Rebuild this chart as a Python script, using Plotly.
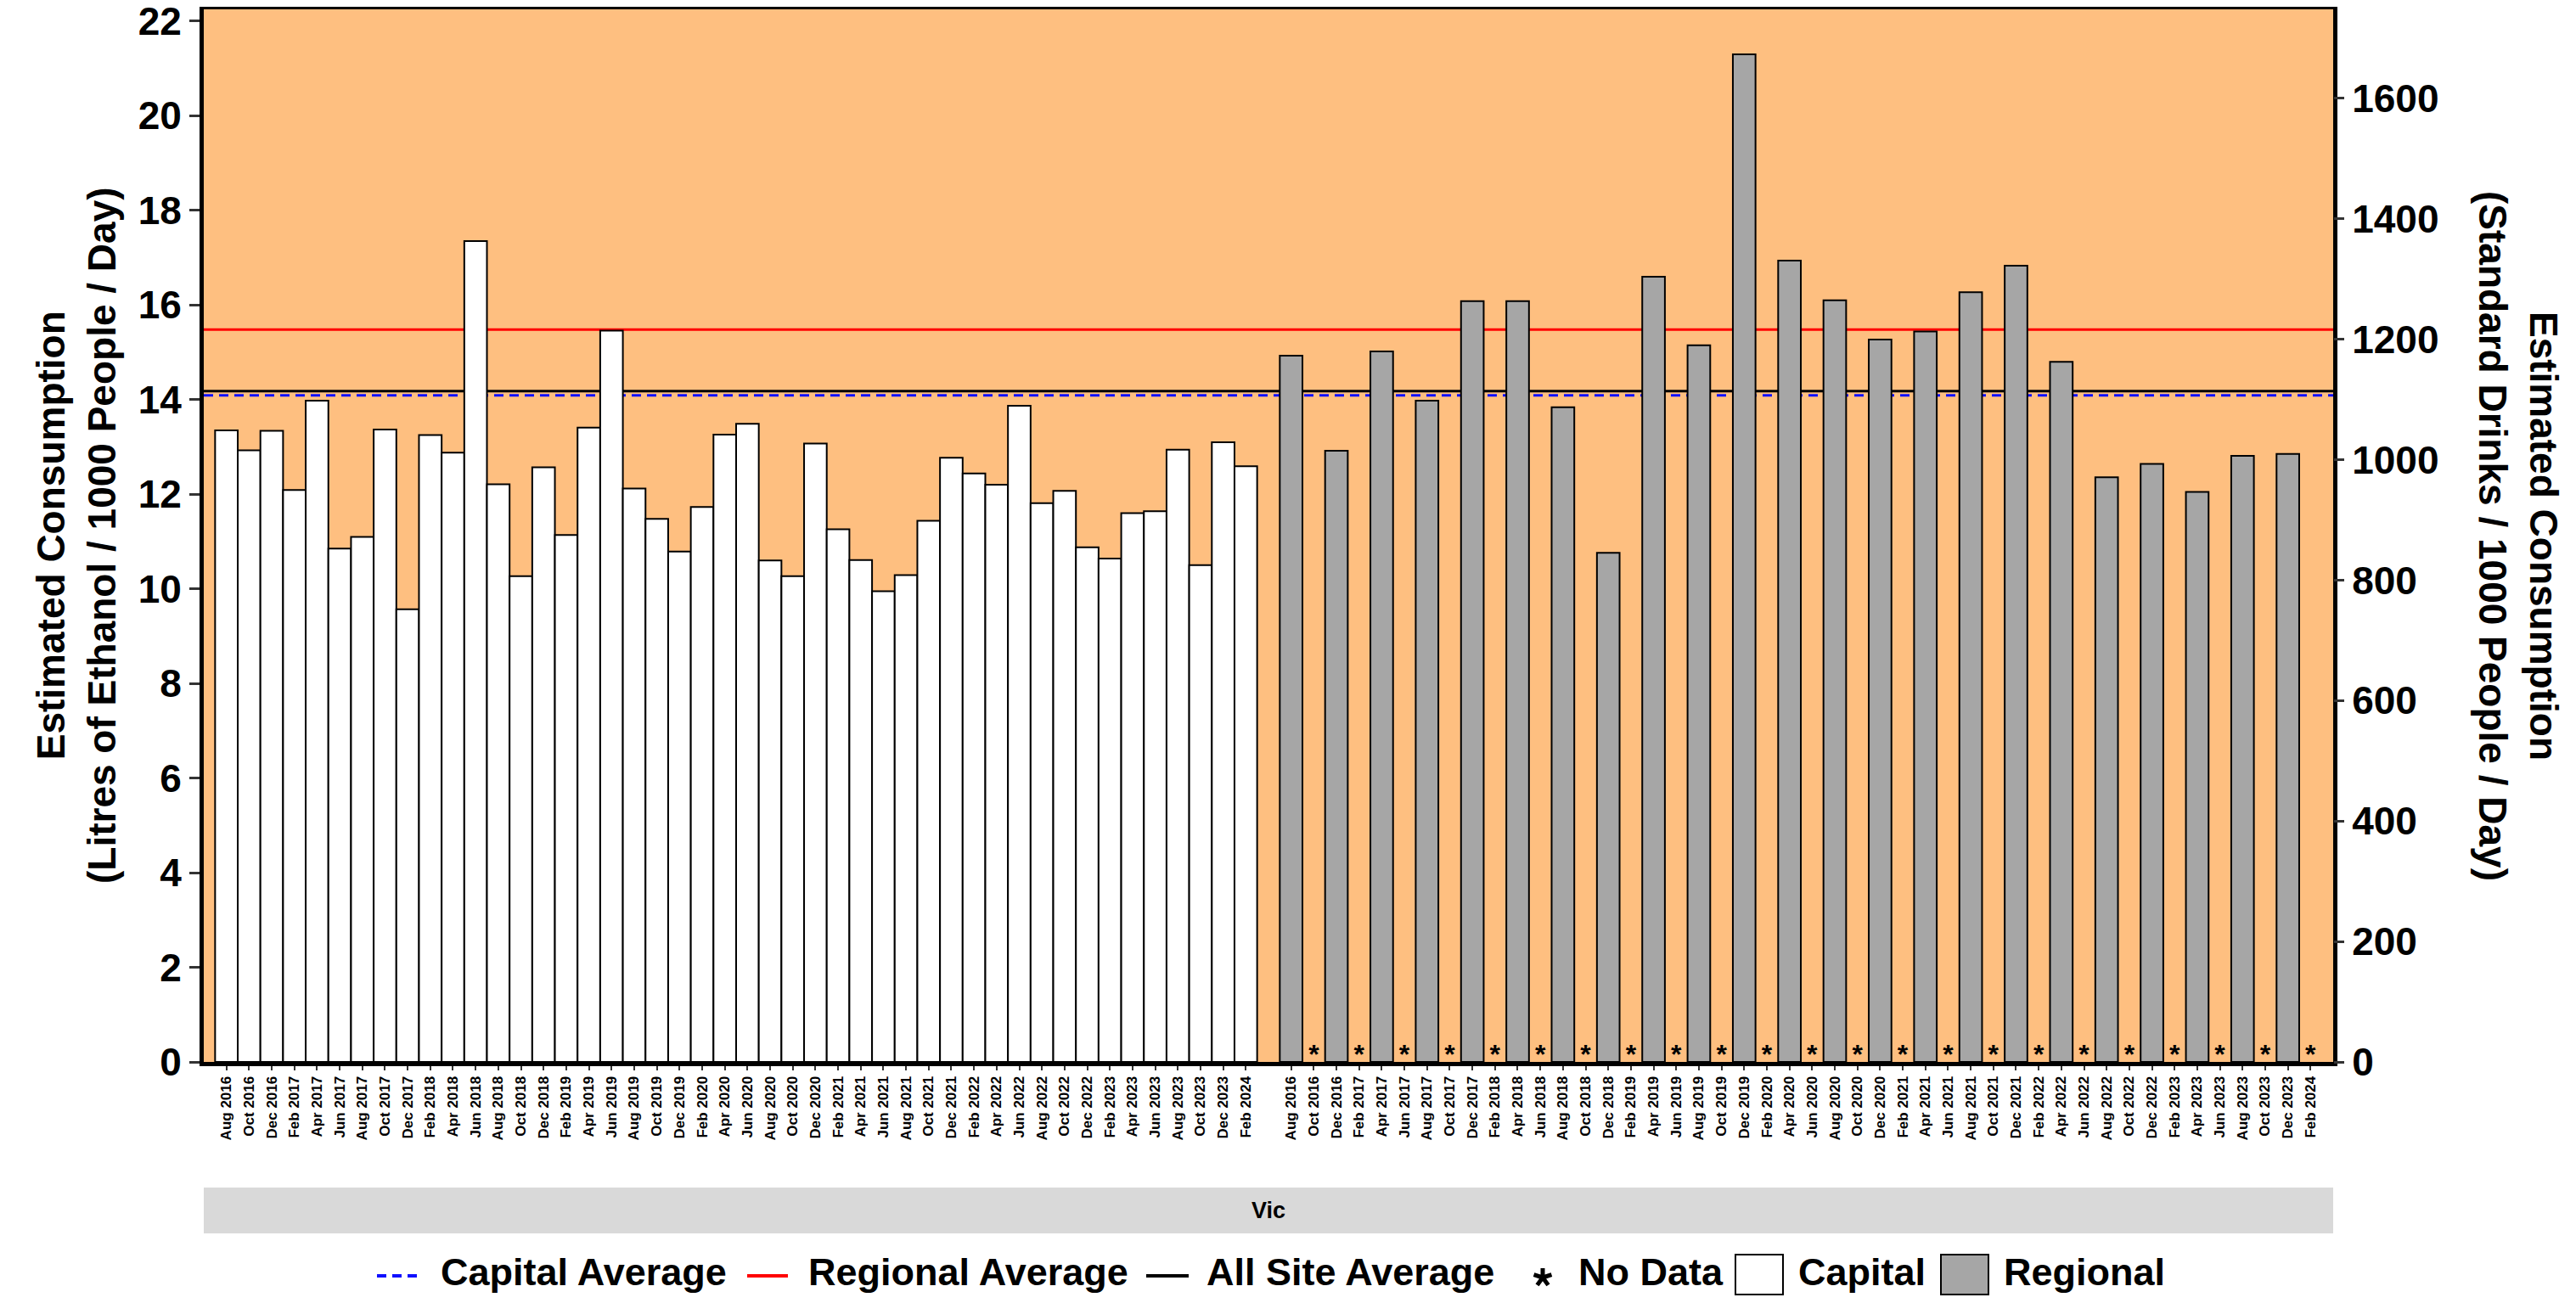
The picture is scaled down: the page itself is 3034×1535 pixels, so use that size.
import math
import plotly.graph_objects as go

# ---------------- data ----------------
months = ["Aug 2016", "Oct 2016", "Dec 2016",
          "Feb 2017", "Apr 2017", "Jun 2017", "Aug 2017", "Oct 2017", "Dec 2017",
          "Feb 2018", "Apr 2018", "Jun 2018", "Aug 2018", "Oct 2018", "Dec 2018",
          "Feb 2019", "Apr 2019", "Jun 2019", "Aug 2019", "Oct 2019", "Dec 2019",
          "Feb 2020", "Apr 2020", "Jun 2020", "Aug 2020", "Oct 2020", "Dec 2020",
          "Feb 2021", "Apr 2021", "Jun 2021", "Aug 2021", "Oct 2021", "Dec 2021",
          "Feb 2022", "Apr 2022", "Jun 2022", "Aug 2022", "Oct 2022", "Dec 2022",
          "Feb 2023", "Apr 2023", "Jun 2023", "Aug 2023", "Oct 2023", "Dec 2023",
          "Feb 2024"]

capital = [13.35, 12.93, 13.34, 12.09, 13.98, 10.85, 11.1, 13.37, 9.57,
           13.25, 12.88, 17.35, 12.21, 10.27, 12.57,
           11.14, 13.41, 15.46, 12.12, 11.48, 10.79,
           11.73, 13.26, 13.49, 10.6, 10.27, 13.07,
           11.26, 10.61, 9.95, 10.29, 11.44, 12.77,
           12.44, 12.2, 13.87, 11.81, 12.07, 10.88,
           10.64, 11.6, 11.64, 12.94, 10.5, 13.1,
           12.59]

regional = [14.93, None, 12.92, None, 15.02, None, 13.98, None, 16.08,
            None, 16.08, None, 13.84, None, 10.76,
            None, 16.6, None, 15.15, None, 21.3,
            None, 16.94, None, 16.1, None, 15.27,
            None, 15.44, None, 16.27, None, 16.83,
            None, 14.8, None, 12.36, None, 12.64,
            None, 12.05, None, 12.81, None, 12.85,
            None]

capital_average = 14.09
regional_average = 15.48
all_site_average = 14.18

region_label = "Vic"
sd_per_litre = 78.55          # standard drinks per litre of ethanol (secondary axis)
y_ticks_left = [0, 2, 4, 6, 8, 10, 12, 14, 16, 18, 20, 22]
y_ticks_right = [0, 200, 400, 600, 800, 1000, 1200, 1400, 1600]

# ---------------- layout constants ----------------
# page body has an 8px margin; figure is sized so the plot lands where the reference has it
BODY = 8
W, H = 3034 - 2 * BODY, 1535 - 2 * BODY
PLOT_L, PLOT_T, PLOT_R, PLOT_B = 240, 11, 2748, 1251     # screen pixels of the plot area
L, T = PLOT_L - BODY, PLOT_T - BODY
R, B = (W + BODY) - PLOT_R, (H + BODY) - PLOT_B
PW, PH = PLOT_R - PLOT_L, PLOT_B - PLOT_T
Y_MAX = 22.25
FONT = "Liberation Sans, Arial, sans-serif"
BG = "#FEBF80"
GRAY = "#A6A6A6"


def px_x(X):
    return (X - PLOT_L) / PW


def px_y(Y):
    return (PLOT_B - Y) / PH


n = len(months)
cap_x = [i + 1 for i in range(n)]
reg_x = [i + n + 2 for i in range(n)]
x_max = 2 * n + 2
nodata_x = [reg_x[i] for i, v in enumerate(regional) if v is None]
STAR_Y = 0.1

fig = go.Figure()

fig.add_trace(go.Bar(x=cap_x, y=capital, width=1.0, name="Capital",
                     marker=dict(color="white", line=dict(color="black", width=2)),
                     showlegend=False))
fig.add_trace(go.Bar(x=reg_x, y=regional, width=1.0, name="Regional",
                     marker=dict(color=GRAY, line=dict(color="black", width=2)),
                     showlegend=False))
fig.add_trace(go.Scatter(x=nodata_x, y=[STAR_Y] * len(nodata_x), mode="text", text=["*"] * len(nodata_x),
                         textposition="middle center", cliponaxis=False,
                         textfont=dict(family=FONT, size=32, color="black", weight="bold"),
                         showlegend=False, hoverinfo="skip"))
# invisible trace for secondary axis
fig.add_trace(go.Scatter(x=[cap_x[0]], y=[0], yaxis="y2", mode="markers",
                         marker=dict(opacity=0), showlegend=False, hoverinfo="skip"))

shapes = []
# average lines (beneath bars)
shapes.append(dict(type="line", xref="paper", x0=0, x1=1, yref="y", y0=all_site_average, y1=all_site_average,
                   layer="below", line=dict(color="black", width=3)))
shapes.append(dict(type="line", xref="paper", x0=0, x1=1, yref="y", y0=capital_average, y1=capital_average,
                   layer="below", line=dict(color="#1010FF", width=3, dash="11px,7px")))
shapes.append(dict(type="line", xref="paper", x0=0, x1=1, yref="y", y0=regional_average, y1=regional_average,
                   layer="below", line=dict(color="#FF0000", width=3)))
# strip
shapes.append(dict(type="rect", xref="paper", yref="paper", x0=0, x1=1, y0=px_y(1453), y1=px_y(1399),
                   fillcolor="#D9D9D9", line=dict(width=0)))

annotations = []
annotations.append(dict(text=region_label, xref="paper", yref="paper", x=0.5, y=px_y(1426),
                        showarrow=False, xanchor="center", yanchor="middle",
                        font=dict(family=FONT, size=27, color="black", weight="bold")))
annotations.append(dict(text="Estimated Consumption<br>(Litres of Ethanol / 1000 People / Day)",
                        xref="paper", yref="paper", x=px_x(90), y=0.5, textangle=-90,
                        showarrow=False, xanchor="center", yanchor="middle",
                        font=dict(family=FONT, size=46, color="black", weight="bold")))
annotations.append(dict(text="Estimated Consumption<br>(Standard Drinks / 1000 People / Day)",
                        xref="paper", yref="paper", x=px_x(2966), y=0.5, textangle=90,
                        showarrow=False, xanchor="center", yanchor="middle",
                        font=dict(family=FONT, size=46, color="black", weight="bold")))

# ---------------- manual legend ----------------
LEG_Y = 1503
LEG_TEXT_BOTTOM = 1526
LEG_FONT = dict(family=FONT, size=45, color="black", weight="bold")
leg_lines = [(444, 495, "#1010FF", "11px,7px"), (880, 928, "#FF0000", "solid"), (1350, 1400, "black", "solid")]
for x0, x1, col, dash in leg_lines:
    shapes.append(dict(type="line", xref="paper", yref="paper", x0=px_x(x0), x1=px_x(x1),
                       y0=px_y(LEG_Y), y1=px_y(LEG_Y), line=dict(color=col, width=4, dash=dash)))
shapes.append(dict(type="rect", xref="paper", yref="paper", x0=px_x(2044), x1=px_x(2100),
                   y0=px_y(1525), y1=px_y(1478), fillcolor="white", line=dict(color="black", width=2)))
shapes.append(dict(type="rect", xref="paper", yref="paper", x0=px_x(2286), x1=px_x(2342),
                   y0=px_y(1525), y1=px_y(1478), fillcolor=GRAY, line=dict(color="black", width=2)))
# legend key for "No Data": five-spoke asterisk drawn as a path
star_cx, star_cy, star_r = 1817, 1505, 11
star_path = ""
for k in range(5):
    ang = math.radians(90 + 72 * k)
    ex, ey = star_cx + star_r * math.cos(ang), star_cy - star_r * math.sin(ang)
    star_path += f"M{px_x(star_cx):.6f},{px_y(star_cy):.6f} L{px_x(ex):.6f},{px_y(ey):.6f} "
shapes.append(dict(type="path", xref="paper", yref="paper", path=star_path.strip(),
                   line=dict(color="black", width=5)))

leg_texts = [(517, "Capital Average"), (950, "Regional Average"), (1419, "All Site Average"),
             (1857, "No Data"), (2116, "Capital"), (2358, "Regional")]
for xs, txt in leg_texts:
    annotations.append(dict(text=txt, xref="paper", yref="paper", x=px_x(xs), y=px_y(LEG_TEXT_BOTTOM),
                            showarrow=False, xanchor="left", yanchor="bottom", font=LEG_FONT))

tickfont_big = dict(family=FONT, size=46, color="black", weight="bold")

fig.update_layout(
    width=W, height=H,
    margin=dict(l=L, r=R, t=T, b=B, autoexpand=False),
    paper_bgcolor="white", plot_bgcolor=BG,
    barmode="overlay", showlegend=False,
    font=dict(family=FONT, color="black"),
    shapes=shapes, annotations=annotations,
    xaxis=dict(range=[0, x_max], tickmode="array", tickvals=cap_x + reg_x, ticktext=months + months,
               tickangle=-90, tickfont=dict(family=FONT, size=17, color="black", weight="bold"),
               ticks="outside", ticklen=5, tickwidth=2, tickcolor="#333333",
               showline=True, linewidth=5, linecolor="black", mirror=True,
               showgrid=False, zeroline=False, automargin=False, fixedrange=True),
    yaxis=dict(range=[0, Y_MAX], tickmode="array", tickvals=y_ticks_left, tickfont=tickfont_big,
               ticks="outside", ticklen=12, tickwidth=3, tickcolor="#333333",
               showline=True, linewidth=5, linecolor="black", mirror=True,
               showgrid=False, zeroline=False, automargin=False, ticklabeloverflow="allow"),
    yaxis2=dict(range=[0, Y_MAX * sd_per_litre], overlaying="y", side="right",
                tickmode="array", tickvals=y_ticks_right, tickfont=tickfont_big,
                ticks="outside", ticklen=12, tickwidth=3, tickcolor="#333333",
                showline=False, showgrid=False, zeroline=False, automargin=False,
                ticklabeloverflow="allow"),
)

fig.write_html("out.html")
